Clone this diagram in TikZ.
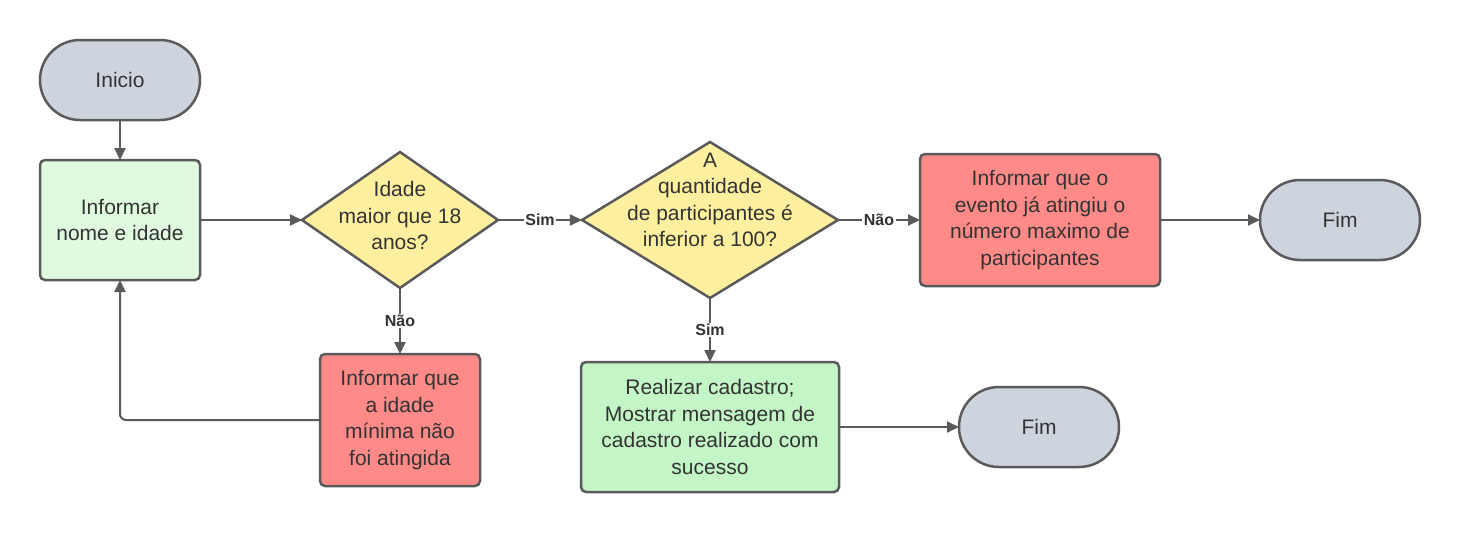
\documentclass[tikz,border=0pt]{standalone}
\usepackage{fontspec}
\setmainfont{Liberation Sans}
\usepackage{tikz}
\usetikzlibrary{positioning,shapes.geometric,arrows.meta}

\definecolor{linha}{HTML}{5A5A5A}
\definecolor{texto}{HTML}{333333}
\definecolor{cinza}{HTML}{CED4DD}
\definecolor{verdeclaro}{HTML}{DFFADF}
\definecolor{verde}{HTML}{C3F5C6}
\definecolor{amarelo}{HTML}{FFF0A0}
\definecolor{vermelho}{HTML}{FF8A87}

\newcommand{\losango}[2][0pt]{\smash{\makebox[0pt]{\raisebox{#1}{\begin{tabular}{@{}c@{}}#2\end{tabular}}}}}

\tikzset{
  base/.style={draw=linha, line width=2.5pt, outer sep=0pt, text=texto, font=\fontsize{21}{26.5}\selectfont, align=center},
  terminal/.style={base, fill=cinza, rectangle, rounded corners=39.9pt, minimum width=160pt, minimum height=80pt},
  proc/.style={base, rectangle, rounded corners=5pt},
  decisao/.style={base, diamond, fill=amarelo, inner sep=0pt},
  seta/.style={draw=linha, line width=2pt, -{Triangle[length=12pt,width=11pt]}},
  rotulo/.style={fill=white, text=texto, font=\fontsize{16}{18}\selectfont\bfseries, inner sep=1.5pt},
}

\begin{document}
\begin{tikzpicture}[x=1pt,y=-1pt]
   \useasboundingbox (0,0) rectangle (1460,533);

   \node[terminal]                                  (inicio)   at (120,80) {Inicio} ; %
   \node[proc, fill=verdeclaro, minimum width=160pt, minimum height=120pt, below=40pt of inicio]
                                                    (info)     {Informar\\nome e idade} ; %
   \node[decisao, minimum width=196pt, minimum height=136pt, right=102pt of info]
                                                    (idade)    {\losango[-3pt]{Idade\\maior que 18\\anos?}} ; %
   \node[decisao, minimum width=256pt, minimum height=156pt, right=84pt of idade]
                                                    (qtd)      {\losango[13pt]{A\\quantidade\\de participantes é\\inferior a 100?}} ; %
   \node[proc, fill=vermelho, minimum width=240pt, minimum height=132pt, right=82pt of qtd]
                                                    (lotado)   {Informar que o\\evento já atingiu o\\número maximo de\\participantes} ; %
   \node[terminal, right=100pt of lotado]           (fim1)     {Fim} ; %
   \node[proc, fill=vermelho, minimum width=160pt, minimum height=132pt, below=66pt of idade]
                                                    (menor)    {Informar que\\a idade\\mínima não\\foi atingida} ; %
   \node[proc, fill=verde, minimum width=258pt, minimum height=130pt, below=64pt of qtd]
                                                    (cadastro) {Realizar cadastro;\\Mostrar mensagem de\\cadastro realizado com\\sucesso} ; %
   \node[terminal, right=120pt of cadastro]         (fim2)     {Fim} ; %

  \draw[seta] (inicio) -- (info) ;
  \draw[seta] (info) -- (idade) ;
  \draw[seta] (idade) -- node[rotulo] {Sim} (qtd) ;
  \draw[seta] (qtd) -- node[rotulo] {Não} (lotado) ;
  \draw[seta] (lotado) -- (fim1) ;
  \draw[seta] (idade) -- node[rotulo] {Não} (menor) ;
  \draw[seta] (qtd) -- node[rotulo] {Sim} (cadastro) ;
  \draw[seta] (cadastro) -- (fim2) ;
  \draw[seta, rounded corners=6pt] (menor.west) -| (info.south) ;

\end{tikzpicture}
\end{document}
